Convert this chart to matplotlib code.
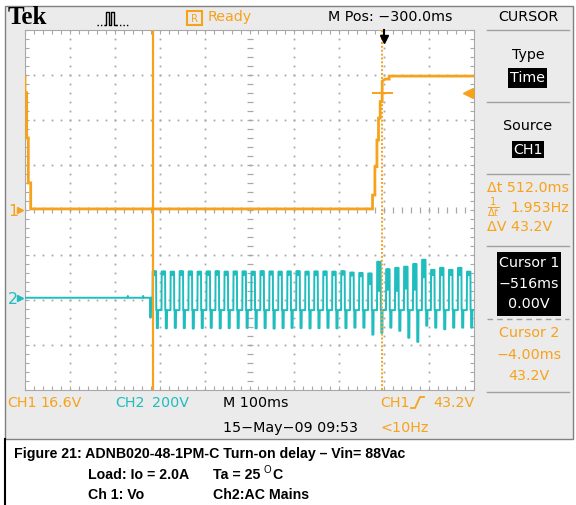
import matplotlib
matplotlib.use("Agg")
import matplotlib.pyplot as plt
import numpy as np
from matplotlib import font_manager
from matplotlib.patches import Rectangle

# ---- data ----
# CH1 (Vo), time in ms relative to trigger, volts
ch1_t = [-800, -800, -796.2, -796.2, -792.7, -792.7, -787.3, -787.3,
         -26.0, -26.0, -20.7, -20.7, -16.2, -16.2, -12.7, -12.7,
         -8.9, -8.9, -4.5, -4.5, 2.0, 11.0, 11.0, 200]
ch1_v = [49.1, 43.2, 43.2, 26.6, 26.6, 10.0, 10.0, 0.4,
         0.4, 5.5, 5.5, 16.0, 16.0, 25.8, 25.8, 33.9,
         33.9, 40.0, 40.0, 47.5, 48.3, 48.3, 49.4, 49.4]

# CH2 (AC mains) before switch-on
ch2_pre_t = [-800, -572, -571, -570, -538, -537, -536, -521, -520.5, -520, -516]
ch2_pre_v = [0, 0, 8, 0, 0, 8, 0, 0, -89, 0, 0]

# CH2 after switch-on: one entry per mains cycle (volts)
ch2_start = -516
ch2_period = 20
ch2_top = [118, 117, 116, 118, 117, 116, 117, 118, 116, 117, 117, 116,
           118, 117, 116, 117, 118, 116, 117, 117, 116, 118, 112, 110,
           108, 160, 127, 133, 138, 150, 169, 124, 133, 124, 133, 116]
ch2_notch = [100, 102, 100, 101, 100, 102, 100, 101, 100, 102, 100, 101,
             100, 102, 100, 101, 100, 102, 100, 101, 100, 102, 98, 95,
             60, 30, 35, 30, 40, 35, 90, 100, 100, 100, 100, 100]
ch2_bot = [-135, -136, -134, -135, -137, -135, -134, -136, -135, -135, -134, -136,
           -135, -137, -135, -134, -135, -136, -135, -134, -136, -135, -133, -133,
           -164, -156, -133, -147, -178, -196, -124, -133, -140, -133, -133, -133]
ch2_mid = -55
# sample pattern inside one cycle (phase, which level)
ch2_phase = [0.0, 0.02, 0.15, 0.2, 0.25, 0.4, 0.42, 0.47, 0.48, 0.6, 0.62, 1.0]
ch2_level = ['mid', 'top', 'top', 'notch', 'top', 'top', 'mid', 'mid',
             'bot', 'bot', 'mid', 'mid']

ch1_scale = 16.6   # V/div
ch2_scale = 200.0  # V/div
ch1_ground = 0.0   # div
ch2_ground = -1.95  # div
cursor1_t = -516
cursor2_t = -4
cursor2_v = 43.2
trig_level = 43.2

orange = '#f7a21b'
teal = '#1fbdbd'
bg = '#ebebeb'
grid_c = '#a8a8a8'

names = {f.name for f in font_manager.fontManager.ttflist}
if 'Liberation Sans Narrow' in names:
    sfont, ssize = 'Liberation Sans Narrow', 13
else:
    sfont, ssize = 'DejaVu Sans', 10.3

# build CH2 trace
t2 = list(ch2_pre_t)
v2 = list(ch2_pre_v)
for k, (top, notch, bot) in enumerate(zip(ch2_top, ch2_notch, ch2_bot)):
    lv = {'mid': ch2_mid, 'top': top, 'notch': notch, 'bot': bot}
    for ph, name in zip(ch2_phase, ch2_level):
        t2.append(ch2_start + (k + ph) * ch2_period)
        v2.append(lv[name])
t2 = np.array(t2)
v2 = np.array(v2)

fig = plt.figure(figsize=(5.76, 5.05), dpi=100)
W, H = 576, 505

# overlay in pixel coordinates
ov = fig.add_axes([0, 0, 1, 1])
ov.set_xlim(0, W)
ov.set_ylim(H, 0)
ov.axis('off')
ov.add_patch(Rectangle((5, 6), 568, 433, facecolor=bg, edgecolor='#808080', lw=1))
ov.plot([5, 5], [439, 505], color='black', lw=1.5)

# graticule axes
L, R, T, B = 25, 474, 30, 390
ax = fig.add_axes([L / W, (H - B) / H, (R - L) / W, (B - T) / H])
ax.set_facecolor('white')
ax.set_xlim(-800, 200)
ax.set_ylim(-4, 4)
ax.set_xticks(np.arange(-800, 201, 100))
ax.set_xticks(np.arange(-800, 201, 20), minor=True)
ax.set_yticks(np.arange(-4, 4.01, 1))
ax.set_yticks(np.arange(-4, 4.01, 0.2), minor=True)
ax.tick_params(which='both', direction='in', length=3, width=0.8, color=grid_c,
               top=True, right=True, labelbottom=False, labelleft=False)
for s in ax.spines.values():
    s.set_color(grid_c)
    s.set_linewidth(0.8)

ys = np.arange(-4, 4.01, 0.2)
xs = np.arange(-800, 201, 20)
for xv in range(-700, 200, 100):
    if xv == -300:
        continue
    ax.plot([xv] * len(ys), ys, ls='none', marker='s', ms=1.3, color=grid_c, mec='none')
for yv in range(-3, 4):
    if yv == 0:
        continue
    ax.plot(xs, [yv] * len(xs), ls='none', marker='s', ms=1.3, color=grid_c, mec='none')
ax.plot([-300] * len(ys), ys, ls='none', marker='_', ms=4, mew=0.9, color=grid_c)
ax.plot(xs, [0] * len(xs), ls='none', marker='|', ms=4, mew=0.9, color=grid_c)

# traces
ax.plot(t2, v2 / ch2_scale + ch2_ground, color=teal, lw=1.4, zorder=3, clip_on=True)
ax.axvline(cursor1_t, color=orange, lw=1.6, zorder=4)
ax.axvline(cursor2_t, color=orange, lw=1.4, ls=(0, (1, 1)), zorder=4)
ax.plot([cursor2_t - 22, cursor2_t + 22], [cursor2_v / ch1_scale] * 2, color=orange, lw=1.4, zorder=4)
ax.plot(ch1_t, np.array(ch1_v) / ch1_scale + ch1_ground, color=orange, lw=2.0, zorder=5,
        solid_joinstyle='miter')

# trigger level arrow and trigger position
ax.plot([186, 200], [trig_level / ch1_scale] * 2, color=orange, lw=1.5, zorder=6, clip_on=False)
ax.plot(186, trig_level / ch1_scale, marker='<', ms=7, color=orange, mec=orange, zorder=6)
ax.plot([0, 0], [4, 3.85], color='black', lw=1.5, zorder=6, clip_on=False)
ax.plot(0, 3.8, marker='v', ms=6, color='black', zorder=6, clip_on=False)

# channel ground markers
ov.text(8, 211, '1', color=orange, fontsize=ssize + 1, family=sfont, ha='left', va='center')
ov.plot(20, 210, marker='>', ms=5, color=orange)
ov.text(8, 299, '2', color=teal, fontsize=ssize + 1, family=sfont, ha='left', va='center')
ov.plot(20, 298, marker='>', ms=5, color=teal)

# header
ov.text(8, 17, 'Tek', family='Liberation Serif', weight='bold', fontsize=18,
        ha='left', va='center', color='black')
ov.plot([97, 105], [25, 25], color='black', lw=1, ls=(0, (1, 1.5)))
ov.plot([105, 106, 106, 109, 109, 111, 111, 114, 114, 116],
        [25, 25, 12, 12, 25, 25, 12, 12, 25, 25], color='black', lw=1)
ov.plot([116, 129], [25, 25], color='black', lw=1, ls=(0, (1, 1.5)))
ov.add_patch(Rectangle((187, 11), 15, 14, fill=False, edgecolor=orange, lw=1.5))
ov.text(194.5, 18.5, 'R', color=orange, fontsize=ssize - 3, family=sfont, ha='center', va='center')
ov.text(208, 17, 'Ready', color=orange, fontsize=ssize, family=sfont, ha='left', va='center')
ov.text(390, 17, 'M Pos: \u2212300.0ms', color='black', fontsize=ssize, family=sfont,
        ha='center', va='center')
ov.text(528, 17, 'CURSOR', color='black', fontsize=ssize, family=sfont, ha='center', va='center')

# right menu
for yl in [30, 102, 174, 246, 392]:
    ov.plot([487, 569], [yl, yl], color='#a0a0a0', lw=1)
ov.plot([487, 569], [319, 319], color='#a0a0a0', lw=1, ls=(0, (4, 3)))
ov.text(528, 55, 'Type', color='black', fontsize=ssize, family=sfont, ha='center', va='center')
ov.add_patch(Rectangle((508, 68), 39, 20, facecolor='black', edgecolor='none'))
ov.text(527.5, 78, 'Time', color='white', fontsize=ssize, family=sfont, ha='center', va='center')
ov.text(528, 126, 'Source', color='black', fontsize=ssize, family=sfont, ha='center', va='center')
ov.add_patch(Rectangle((512, 141), 32, 17, facecolor='black', edgecolor='none'))
ov.text(528, 149.5, 'CH1', color='white', fontsize=ssize, family=sfont, ha='center', va='center')
ov.text(487, 188, '\u0394t 512.0ms', color=orange, fontsize=ssize, family=sfont, ha='left', va='center')
ov.text(487, 208, r'$\frac{1}{\Delta t}$', color=orange, fontsize=ssize, ha='left', va='center')
ov.text(510, 208, '1.953Hz', color=orange, fontsize=ssize, family=sfont, ha='left', va='center')
ov.text(487, 227, '\u0394V 43.2V', color=orange, fontsize=ssize, family=sfont, ha='left', va='center')
ov.add_patch(Rectangle((497, 252), 64, 64, facecolor='black', edgecolor='none'))
ov.text(529, 263, 'Cursor 1', color='white', fontsize=ssize, family=sfont, ha='center', va='center')
ov.text(529, 284, '\u2212516ms', color='white', fontsize=ssize, family=sfont, ha='center', va='center')
ov.text(529, 304, '0.00V', color='white', fontsize=ssize, family=sfont, ha='center', va='center')
ov.text(529, 333, 'Cursor 2', color=orange, fontsize=ssize, family=sfont, ha='center', va='center')
ov.text(529, 355, '\u22124.00ms', color=orange, fontsize=ssize, family=sfont, ha='center', va='center')
ov.text(529, 376, '43.2V', color=orange, fontsize=ssize, family=sfont, ha='center', va='center')

# bottom status line
ov.text(7, 403, 'CH1', color=orange, fontsize=ssize, family=sfont, ha='left', va='center')
ov.text(40, 403, '16.6V', color=orange, fontsize=ssize, family=sfont, ha='left', va='center')
ov.text(115, 403, 'CH2', color=teal, fontsize=ssize, family=sfont, ha='left', va='center')
ov.text(152, 403, '200V', color=teal, fontsize=ssize, family=sfont, ha='left', va='center')
ov.text(223, 403, 'M 100ms', color='black', fontsize=ssize, family=sfont, ha='left', va='center')
ov.text(380, 403, 'CH1', color=orange, fontsize=ssize, family=sfont, ha='left', va='center')
ov.plot([411, 415, 420, 424], [408, 408, 397, 397], color=orange, lw=1.3)
ov.text(433, 403, '43.2V', color=orange, fontsize=ssize, family=sfont, ha='left', va='center')
ov.text(223, 428, '15\u2212May\u221209 09:53', color='black', fontsize=ssize, family=sfont,
        ha='left', va='center')
ov.text(380, 428, '<10Hz', color=orange, fontsize=ssize, family=sfont, ha='left', va='center')

# caption
cap = dict(family='Liberation Sans', weight='bold', fontsize=10.2, color='black', ha='left', va='center')
ov.text(14, 454, 'Figure 21: ADNB020-48-1PM-C Turn-on delay \u2013 Vin= 88Vac', **cap)
ov.text(88, 475, 'Load: Io = 2.0A', **cap)
ov.text(213, 475, 'Ta = 25', **cap)
ov.text(263, 470, 'O', **dict(cap, fontsize=7, weight='normal'))
ov.text(272, 475, 'C', **cap)
ov.text(88, 495, 'Ch 1: Vo', **cap)
ov.text(213, 495, 'Ch2:AC Mains', **cap)

fig.savefig('out.png', dpi=100)
